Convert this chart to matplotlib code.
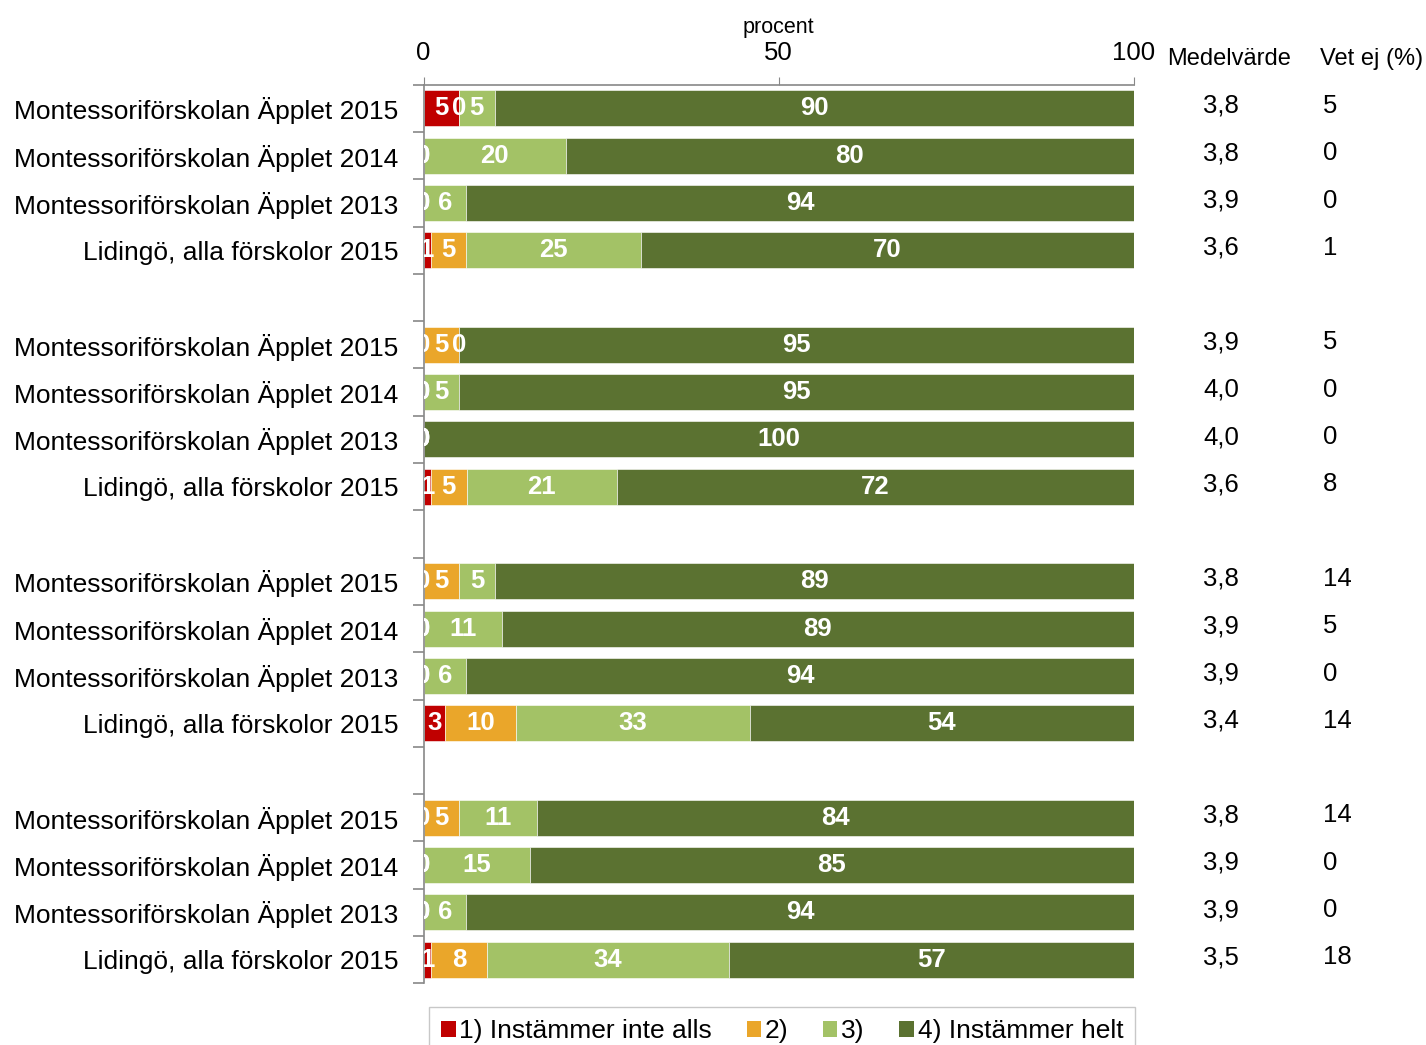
import numpy as np
import matplotlib
matplotlib.use("Agg")
import matplotlib.pyplot as plt
from matplotlib.patches import Patch
import matplotlib.ticker as mticker

plt.rcParams['font.family'] = ['Liberation Sans', 'DejaVu Sans']

# row labels, top to bottom (None = empty gap row)
rows = [
    "Montessoriförskolan Äpplet 2015", "Montessoriförskolan Äpplet 2014",
    "Montessoriförskolan Äpplet 2013", "Lidingö, alla förskolor 2015", None,
    "Montessoriförskolan Äpplet 2015", "Montessoriförskolan Äpplet 2014",
    "Montessoriförskolan Äpplet 2013", "Lidingö, alla förskolor 2015", None,
    "Montessoriförskolan Äpplet 2015", "Montessoriförskolan Äpplet 2014",
    "Montessoriförskolan Äpplet 2013", "Lidingö, alla förskolor 2015", None,
    "Montessoriförskolan Äpplet 2015", "Montessoriförskolan Äpplet 2014",
    "Montessoriförskolan Äpplet 2013", "Lidingö, alla förskolor 2015",
]

# percent per answer, one value per non-gap row
s1 = [5, 0, 0, 1,   0, 0, 0, 1,   0, 0, 0, 3,   0, 0, 0, 1]
s2 = [0, 0, 0, 5,   5, 0, 0, 5,   5, 0, 0, 10,  5, 0, 0, 8]
s3 = [5, 20, 6, 25, 0, 5, 0, 21,  5, 11, 6, 33, 11, 15, 6, 34]
s4 = [90, 80, 94, 70, 95, 95, 100, 72, 89, 89, 94, 54, 84, 85, 94, 57]

medel = ["3,8", "3,8", "3,9", "3,6", "3,9", "4,0", "4,0", "3,6",
         "3,8", "3,9", "3,9", "3,4", "3,8", "3,9", "3,9", "3,5"]
vetej = ["5", "0", "0", "1", "5", "0", "0", "8",
         "14", "5", "0", "14", "14", "0", "0", "18"]

series_names = ["1) Instämmer inte alls", "2)", "3)", "4) Instämmer helt"]
colors = ["#C00000", "#EAA62A", "#A3C266", "#5B7231"]

fig = plt.figure(figsize=(14.26, 10.45), dpi=100)
ax = fig.add_axes([0.297, 0.059, 0.498, 0.860])

ypos = [i for i, r in enumerate(rows) if r is not None]
series = [np.array(s, dtype=float) for s in (s1, s2, s3, s4)]
totals = sum(series)  # rounded shares, bars are scaled to fill 100 %

left = np.zeros(len(ypos))
for vals, col in zip(series, colors):
    widths = vals / totals * 100
    ax.barh(ypos, widths, left=left, height=0.76, color=col,
            edgecolor="white", linewidth=0.4)
    for y, l, w, v in zip(ypos, left, widths, vals):
        ax.text(l + w / 2, y, f"{int(v)}", ha="center", va="center",
                color="white", fontsize=18.5, fontweight="bold", clip_on=True)
    left = left + widths

ax.set_xlim(0, 100)
ax.set_ylim(18.5, -0.5)

# top axis
ax.xaxis.tick_top()
ax.set_xticks([0, 50, 100])
ax.tick_params(axis="x", labelsize=18.5, length=6, color="#888888", pad=8)
ax.set_xlabel("procent", fontsize=15.5)
ax.xaxis.set_label_position("top")
ax.xaxis.labelpad = 6

# y labels and boundary ticks
ax.set_yticks(ypos)
ax.set_yticklabels([rows[i] for i in ypos], fontsize=19)
ax.tick_params(axis="y", which="major", length=0, pad=18)
ax.yaxis.set_minor_locator(mticker.FixedLocator(np.arange(-0.5, 19, 1)))
ax.tick_params(axis="y", which="minor", length=8, color="#888888", width=1.2)

for side in ["right", "bottom"]:
    ax.spines[side].set_visible(False)
for side in ["left", "top"]:
    ax.spines[side].set_color("#888888")
    ax.spines[side].set_linewidth(1.2)

# side columns
ax.text(113.4, -1.05, "Medelvärde", ha="center", va="center", fontsize=17,
        clip_on=False)
ax.text(126.2, -1.05, "Vet ej (%)", ha="left", va="center", fontsize=17,
        clip_on=False)
for y, m, v in zip(ypos, medel, vetej):
    ax.text(112.3, y - 0.05, m, ha="center", va="center", fontsize=18.5,
            clip_on=False)
    ax.text(126.6, y - 0.05, v, ha="left", va="center", fontsize=18.5,
            clip_on=False)

handles = [Patch(facecolor=c, edgecolor="none") for c in colors]
leg = fig.legend(handles, series_names, loc="upper center",
                 bbox_to_anchor=(0.5485, 0.036), ncol=4, fontsize=19,
                 frameon=True, fancybox=False, handlelength=0.55,
                 handleheight=0.55, handletextpad=0.15, columnspacing=1.3,
                 borderpad=0.45, borderaxespad=0)
leg.get_frame().set_edgecolor("#BBBBBB")

fig.savefig("out.png", dpi=100)
